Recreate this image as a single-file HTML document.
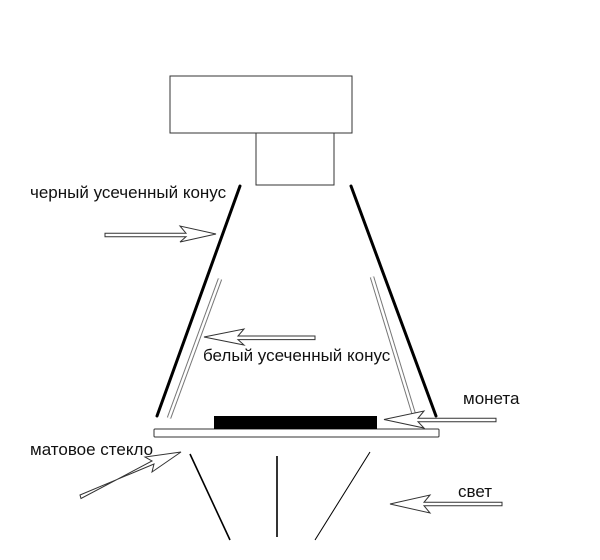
<!DOCTYPE html>
<html><head><meta charset="utf-8"><style>
html,body{margin:0;padding:0;background:#fff;}
svg{display:block;}
text{font-family:"Liberation Sans","DejaVu Sans",sans-serif;font-size:17px;fill:#111;}
</style></head><body>
<svg width="600" height="560" viewBox="0 0 600 560" xmlns="http://www.w3.org/2000/svg">
<g fill="#fff" stroke="#333" stroke-width="1">
<rect x="170" y="76" width="182" height="57"/>
<rect x="256" y="133" width="78" height="52"/>
<rect x="154" y="429" width="285" height="8" rx="1"/>
</g>
<rect x="214" y="416" width="163" height="13" fill="#000"/>
<g stroke="#000" stroke-width="3" stroke-linecap="round">
<line x1="240" y1="186" x2="157" y2="416"/>
<line x1="351" y1="186" x2="436" y2="416"/>
</g>
<g stroke="#777" stroke-width="4.5"><line x1="220" y1="279" x2="169" y2="418"/><line x1="372" y1="277" x2="415" y2="418"/></g>
<g stroke="#fff" stroke-width="2.5"><line x1="220" y1="279" x2="169" y2="418"/><line x1="372" y1="277" x2="415" y2="418"/></g>
<g stroke="#000" stroke-width="1.6">
<line x1="190" y1="454" x2="230" y2="540"/>
<line x1="277" y1="456" x2="277" y2="537"/>
<line x1="370" y1="452" x2="315" y2="540" stroke-width="1"/>
</g>
<g fill="#fff" stroke="#333" stroke-width="1">
<path d="M105,233.2 L186,233.2 L180,226 L216,234 L180,242 L186,236.8 L105,236.8 Z"/>
<path d="M315,336 L238,336 L244,329 L204,337 L244,345 L238,339.6 L315,339.6 Z"/>
<path d="M496,418.3 L418,418.3 L424,411 L384,419.5 L424,428 L418,421.7 L496,421.7 Z"/>
<path d="M502,502.3 L424,502.3 L430,495 L390,504 L430,513 L424,505.7 L502,505.7 Z"/>
<path d="M80,495 L154,464 L152,472 L181,452 L145,457 L152,461 L81,498.5 Z"/>
</g>
<text x="30" y="198">черный усеченный конус</text>
<text x="203" y="361">белый усеченный конус</text>
<text x="463" y="404">монета</text>
<text x="30" y="455">матовое стекло</text>
<text x="458" y="497">свет</text>
</svg>
</body></html>
